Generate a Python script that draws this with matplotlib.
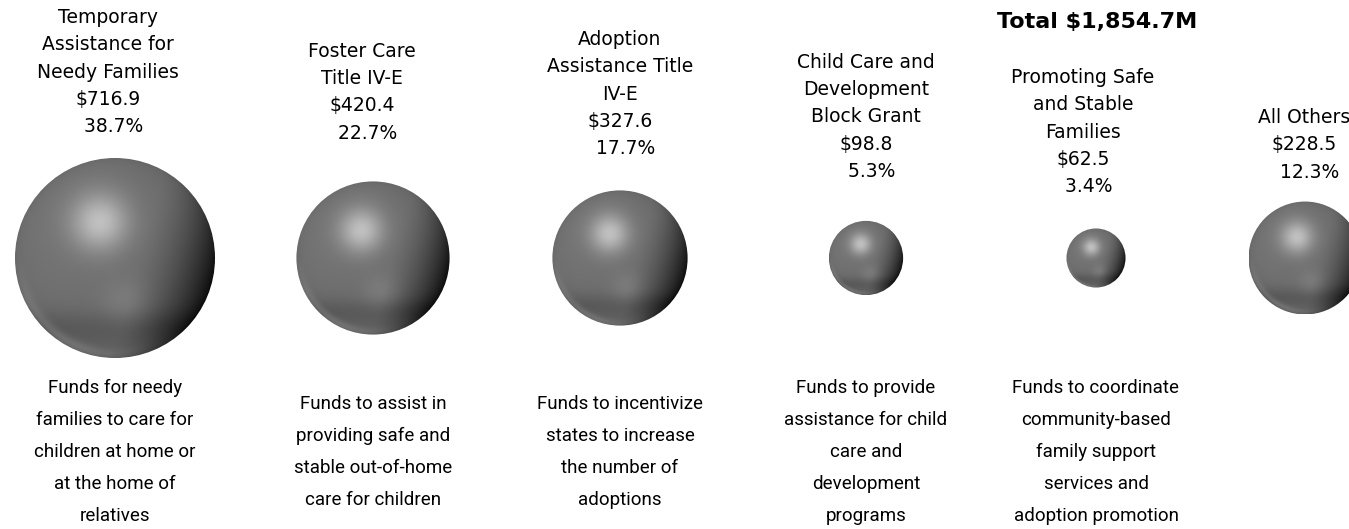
import numpy as np
import matplotlib.pyplot as plt
from matplotlib.patches import Circle

# data
names = ["Temporary\nAssistance for\nNeedy Families", "Foster Care\nTitle IV-E",
         "Adoption\nAssistance Title\nIV-E", "Child Care and\nDevelopment\nBlock Grant",
         "Promoting Safe\nand Stable\nFamilies", "All Others"]
amounts = [716.9, 420.4, 327.6, 98.8, 62.5, 228.5]
shares = [38.7, 22.7, 17.7, 5.3, 3.4, 12.3]
descriptions = [
    "Funds for needy\nfamilies to care for\nchildren at home or\nat the home of\nrelatives",
    "Funds to assist in\nproviding safe and\nstable out-of-home\ncare for children",
    "Funds to incentivize\nstates to increase\nthe number of\nadoptions",
    "Funds to provide\nassistance for child\ncare and\ndevelopment\nprograms",
    "Funds to coordinate\ncommunity-based\nfamily support\nservices and\nadoption promotion",
    "",
]
total = 1854.7

# layout (pixels)
W, H = 1349, 529
sphere_x = [115, 373, 620, 866, 1096, 1305]
label_x = [108, 362, 620, 866, 1083, 1304]
label_top = [8, 42, 30, 53, 68, 108]
sphere_y = 258
max_r = 100

fig = plt.figure(figsize=(W / 100, H / 100), dpi=100)
ax = fig.add_axes([0, 0, 1, 1])
ax.set_xlim(0, W)
ax.set_ylim(H, 0)
ax.axis("off")


def sphere_image(n=300):
    t = np.linspace(-1, 1, n)
    x, y = np.meshgrid(t, -t)
    rr = np.sqrt(x ** 2 + y ** 2)
    z = np.sqrt(np.clip(1 - rr ** 2, 0, 1))
    rim = (1 - z) ** 1.5
    val = 0.44 + 0.03 * (y - x)
    # main highlight upper left
    val += 0.3 * np.exp(-((x + 0.15) ** 2 + (y - 0.36) ** 2) / 0.08)
    # soft secondary light low in the middle
    val += 0.06 * np.exp(-((x - 0.1) ** 2 + (y + 0.45) ** 2) / 0.06)
    # darker right side
    val -= 0.34 * np.clip((0.9 * x - 0.25 * y - 0.2) / 0.8, 0, 1) ** 1.6
    val -= 0.07 * rim
    # soft dark band near the bottom, lighter rim below it
    val -= 0.06 * np.exp(-((y + 0.7) ** 2) / 0.03)
    val += 0.12 * np.exp(-((rr - 0.96) ** 2) / 0.003) * np.clip(-y, 0, 1) * np.clip(0.4 - x, 0, 1)
    val = np.clip(val, 0, 1)
    return np.dstack([val, val, val])


img = sphere_image()
for i, v in enumerate(amounts):
    r = max_r * np.sqrt(v / max(amounts))
    cx = sphere_x[i]
    im = ax.imshow(img, extent=[cx - r, cx + r, sphere_y + r, sphere_y - r],
                   interpolation="bilinear", zorder=2)
    clip = Circle((cx, sphere_y), r, transform=ax.transData)
    im.set_clip_path(clip)

    label = f"{names[i]}\n${v:.1f}\n  {shares[i]:.1f}%"
    ax.text(label_x[i], label_top[i], label, ha="center", va="top",
            fontsize=13.5, family="DejaVu Sans", linespacing=1.55, color="black")

    if descriptions[i]:
        ax.text(sphere_x[i], 452, descriptions[i], ha="center", va="center",
                fontsize=13.5, family="Roboto", linespacing=2.0, color="black")

ax.text(1097, 22, f"Total ${total:,.1f}M", ha="center", va="center",
        fontsize=16, fontweight="bold", family="DejaVu Sans", color="black")

fig.savefig("out.png", dpi=100, facecolor="white")
